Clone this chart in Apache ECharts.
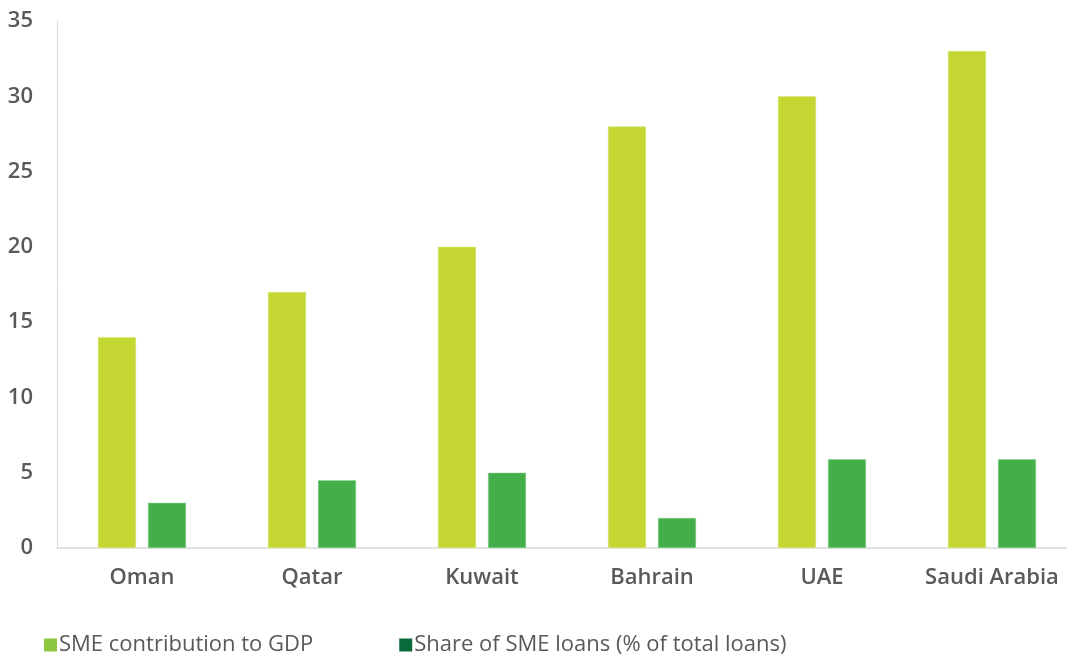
<!DOCTYPE html>
<html>
<head>
<meta charset="utf-8">
<script src="https://cdn.jsdelivr.net/npm/echarts@6/dist/echarts.min.js"></script>
<style>
html,body{margin:0;padding:0;background:#fff;overflow:hidden;width:1067px;height:655px;}
#c{width:1090px;height:655px;}
</style>
</head>
<body>
<div id="c"></div>
<script>
const categories = ['Oman', 'Qatar', 'Kuwait', 'Bahrain', 'UAE', 'Saudi Arabia'];
const smeGdp = [14, 17, 20, 28, 30, 33];
const smeLoans = [3, 4.5, 5, 2, 5.9, 5.9];
const seriesNames = ['SME contribution to GDP', 'Share of SME loans (% of total loans)'];
const yTicks = [0, 5, 10, 15, 20, 25, 30, 35];

const chart = echarts.init(document.getElementById('c'), null, {renderer: 'canvas'});
const font = '"Open Sans", "Noto Sans", sans-serif';
chart.setOption({
  animation: false,
  backgroundColor: '#ffffff',
  textStyle: {fontFamily: font},
  grid: {left: 57, top: 21, width: 1020, height: 527, containLabel: false},
  legend: {
    left: 39, top: 629,
    itemWidth: 13, itemHeight: 13, itemGap: 86,
    icon: 'rect',
    itemStyle: {borderWidth: 0},
    textStyle: {fontFamily: font, fontSize: 22, color: '#595959', padding: [0, 0, 0, -3]},
    data: [
      {name: seriesNames[0], itemStyle: {color: '#8DC63F', borderWidth: 0}},
      {name: seriesNames[1], itemStyle: {color: '#0A6B3A', borderWidth: 0}}
    ]
  },
  xAxis: {
    type: 'category',
    data: categories,
    axisLine: {show: true, lineStyle: {color: '#d9d9d9', width: 1.5}},
    axisTick: {show: false},
    axisLabel: {interval: 0, color: '#595959', fontSize: 22, fontWeight: 600, fontFamily: font, margin: 19}
  },
  yAxis: {
    type: 'value',
    min: yTicks[0], max: yTicks[yTicks.length - 1], interval: 5,
    axisLine: {show: true, lineStyle: {color: '#d9d9d9', width: 1}},
    axisTick: {show: false},
    splitLine: {show: false},
    axisLabel: {color: '#595959', fontSize: 22, fontWeight: 600, fontFamily: font, margin: 24}
  },
  series: [
    {
      name: seriesNames[0], type: 'bar', data: smeGdp,
      barWidth: 38, barGap: '31.6%',
      itemStyle: {color: '#C4D631', borderColor: '#d8e67a', borderWidth: 0.5}
    },
    {
      name: seriesNames[1], type: 'bar', data: smeLoans,
      barWidth: 38, barGap: '31.6%',
      itemStyle: {color: '#43AE4A', borderColor: '#8fd29a', borderWidth: 0.5}
    }
  ]
});
</script>
</body>
</html>
